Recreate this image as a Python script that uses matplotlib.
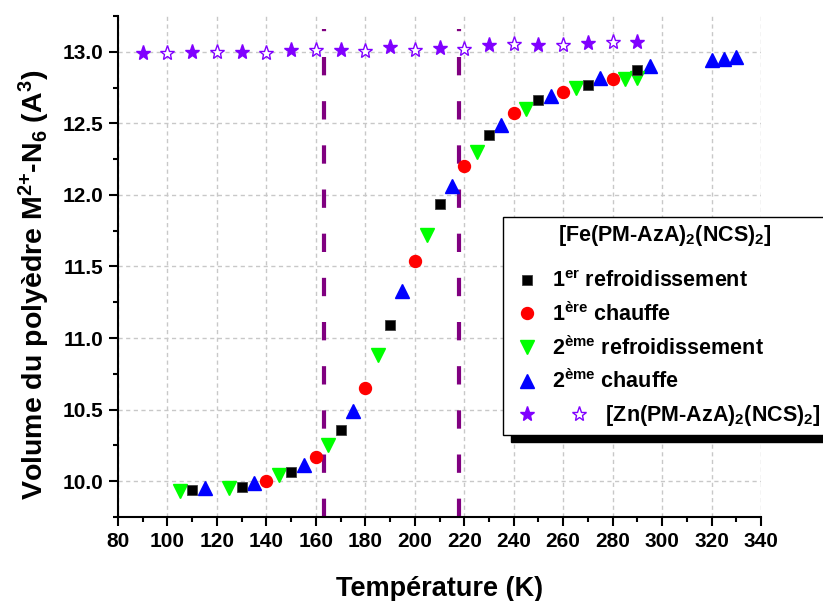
import matplotlib
matplotlib.use("Agg")
import matplotlib.pyplot as plt
from matplotlib.lines import Line2D
from matplotlib.legend_handler import HandlerBase
from matplotlib.ticker import MultipleLocator

# --- données ---
# [Fe(PM-AzA)2(NCS)2]
T_refr1 = [110, 130, 150, 170, 190, 210, 230, 250, 270, 290]
V_refr1 = [9.94, 9.96, 10.065, 10.36, 11.09, 11.94, 12.42, 12.66, 12.77, 12.87]

T_chauf1 = [140, 160, 180, 200, 220, 240, 260, 280]
V_chauf1 = [10.0, 10.17, 10.65, 11.54, 12.20, 12.57, 12.72, 12.81]

T_refr2 = [105, 125, 145, 165, 185, 205, 225, 245, 265, 285, 290]
V_refr2 = [9.93, 9.955, 10.04, 10.25, 10.88, 11.72, 12.30, 12.60, 12.75, 12.81, 12.82]

T_chauf2 = [115, 135, 155, 175, 195, 215, 235, 255, 275, 295, 320, 325, 330]
V_chauf2 = [9.95, 9.99, 10.11, 10.49, 11.33, 12.06, 12.49, 12.69, 12.82, 12.90, 12.94, 12.95, 12.965]

# [Zn(PM-AzA)2(NCS)2] (étoiles pleines / vides)
T_zn_plein = [90, 110, 130, 150, 170, 190, 210, 230, 250, 270, 290]
V_zn_plein = [12.99, 13.0, 13.0, 13.01, 13.015, 13.03, 13.025, 13.05, 13.05, 13.06, 13.07]
T_zn_vide = [100, 120, 140, 160, 180, 200, 220, 240, 260, 280]
V_zn_vide = [12.99, 13.0, 12.99, 13.01, 13.005, 13.01, 13.02, 13.055, 13.05, 13.065]

# températures de transition (traits pointillés)
T_transition = [163.3, 218.0]


class HandlerDeuxEtoiles(HandlerBase):
    """Dessine deux marqueurs côte à côte pour une seule entrée de légende."""

    def __init__(self, ecart, **kw):
        super().__init__(**kw)
        self.ecart = ecart

    def create_artists(self, legend, orig_handle, xdescent, ydescent,
                       width, height, fontsize, trans):
        x0 = width / 2 - xdescent
        y0 = height / 2 - ydescent
        arts = []
        for h, dx in zip(orig_handle, (0, self.ecart)):
            ln = Line2D([x0 + dx], [y0])
            ln.update_from(h)
            ln.set_transform(trans)
            arts.append(ln)
        return arts


plt.rcParams['font.family'] = ['Liberation Sans', 'DejaVu Sans']
plt.rcParams['font.weight'] = 'bold'
plt.rcParams['mathtext.default'] = 'regular'

fig = plt.figure(figsize=(8.23, 6.01), dpi=100)
ax = fig.add_axes([0.1434, 0.1398, 0.7813, 0.8336])

ax.set_xlim(80, 340)
ax.set_ylim(9.75, 13.25)

ax.grid(True, color='#c8c8c8', linestyle=(0, (3, 2.5)), linewidth=1)
ax.set_axisbelow(True)

for t in T_transition:
    ln = ax.axvline(t, ymax=0.974, color='#800080', linewidth=3, zorder=1.5)
    ln.set_dashes((4.4, 6.2))

violet = '#8000ff'
h_zn1, = ax.plot(T_zn_plein, V_zn_plein, ls='none', marker='*', ms=11,
                 color=violet, mec=violet)
h_zn2, = ax.plot(T_zn_vide, V_zn_vide, ls='none', marker='*', ms=11,
                 mfc='white', mec=violet, mew=1)
h4, = ax.plot(T_chauf2, V_chauf2, ls='none', marker='^', ms=9.5, color='#0000ff')
h3, = ax.plot(T_refr2, V_refr2, ls='none', marker='v', ms=9.5, color='#00ff00')
h2, = ax.plot(T_chauf1, V_chauf1, ls='none', marker='o', ms=8.6, color='#ff0000')
h1, = ax.plot(T_refr1, V_refr1, ls='none', marker='s', ms=7.2, color='black',
              mec='#404040', mew=0.6)

ax.xaxis.set_major_locator(MultipleLocator(20))
ax.xaxis.set_minor_locator(MultipleLocator(10))
ax.yaxis.set_major_locator(MultipleLocator(0.5))
ax.yaxis.set_minor_locator(MultipleLocator(0.25))
ax.yaxis.set_major_formatter(plt.FormatStrFormatter('%.1f'))

for s in ('top', 'right'):
    ax.spines[s].set_visible(False)
for s in ('left', 'bottom'):
    ax.spines[s].set_linewidth(1.5)

ax.tick_params(which='major', direction='out', length=6.5, width=1.5,
               labelsize=15, pad=4)
ax.tick_params(which='minor', direction='out', length=3.5, width=1.5)

ax.set_xlabel('Température (K)', fontsize=19.5, fontweight='bold', labelpad=18)
ax.set_ylabel('Volume du polyèdre M$^{2{+}}$-N$_6$ (A$^3$)', fontsize=20.5,
              fontweight='bold')
ax.yaxis.set_label_coords(-0.102, 0.463)

handles = [h1, h2, h3, h4, (h_zn1, h_zn2)]
labels = ['1$^{er}$ refroidissement',
          '1$^{ère}$ chauffe',
          '2$^{ème}$ refroidissement',
          '2$^{ème}$ chauffe',
          '         [Zn(PM-AzA)$_2$(NCS)$_2$]']
leg = ax.legend(handles, labels,
                handler_map={tuple: HandlerDeuxEtoiles(ecart=38)},
                title='[Fe(PM-AzA)$_2$(NCS)$_2$]',
                title_fontproperties={'weight': 'bold', 'size': 15.5},
                prop={'weight': 'bold', 'size': 15.5},
                loc='upper left', bbox_to_anchor=(0.611, 0.639),
                bbox_transform=fig.transFigure, borderaxespad=0,
                frameon=True, fancybox=False, edgecolor='black', framealpha=1,
                handlelength=1.6, handletextpad=0.4, labelspacing=0.47,
                borderpad=0.3,
                shadow={'ox': 6, 'oy': -5, 'shade': 1.0, 'alpha': 1})
leg.get_frame().set_linewidth(1)
# un peu plus d'espace sous le titre de la légende
leg._legend_box.sep = 16

fig.savefig('out.png', dpi=100)
